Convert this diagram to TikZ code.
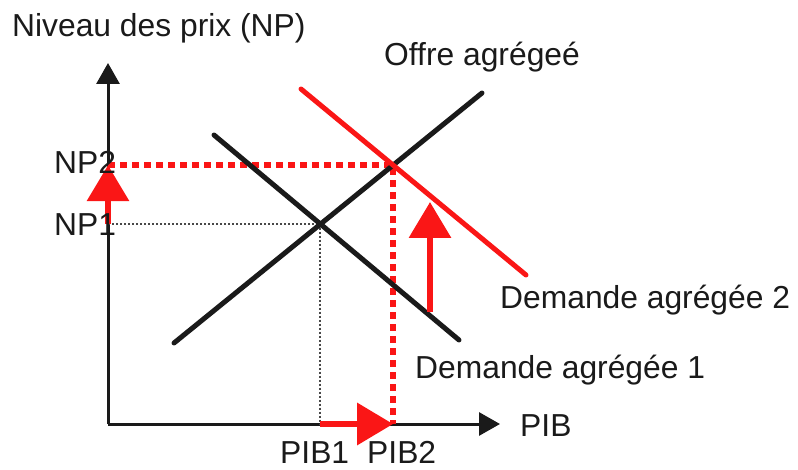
\documentclass[tikz,border=0pt]{standalone}
\usepackage{fontspec}
\setmainfont{Liberation Sans}
\usetikzlibrary{arrows.meta}
\definecolor{ink}{RGB}{26,26,26}
\definecolor{redl}{RGB}{250,22,22}
\begin{document}
\begin{tikzpicture}[x=1pt,y=-1pt,
  lbl/.style={anchor=base west,inner sep=0pt,text=ink,font=\fontsize{31.8}{32}\selectfont},
  curve/.style={draw=ink,line width=5pt,line cap=round},
  rcurve/.style={draw=redl,line width=5pt,line cap=round},
  axis/.style={draw=ink,line width=3pt,-{Triangle[width=23pt,length=21pt]}},
  guide/.style={draw=ink!80,line width=2pt,dash pattern=on 2pt off 2pt},
  rguide/.style={draw=redl,line width=6pt,dash pattern=on 7pt off 5pt},
  rarrow/.style={draw=redl,line width=6.5pt,-{Triangle[width=41pt,length=36pt]}}]
\useasboundingbox (0,0) rectangle (798,470);
% axes
\coordinate (O) at (108,424);
\coordinate (ytop) at (108,63);
\coordinate (xend) at (500,424);
\draw[axis] (O) -- (ytop);
\draw[axis] (O) -- (xend);
% curve end points
\coordinate (s1) at (174,343);
\coordinate (s2) at (482,93);
\coordinate (d1a) at (214,135);
\coordinate (d1b) at (459,340);
\coordinate (d2a) at (301,89);
\coordinate (d2b) at (526,275);
\coordinate (E1) at (intersection of s1--s2 and d1a--d1b);
\coordinate (E2) at (intersection of s1--s2 and d2a--d2b);
\coordinate (np1) at (O |- E1);
\coordinate (np2) at (O |- E2);
\coordinate (pib1) at (E1 |- O);
\coordinate (pib2) at (E2 |- O);
% guides
\draw[guide] (np1) -- (E1) -- (pib1);
\draw[rguide] (np2) -- (E2) -- (pib2);
% curves
\draw[curve] (s1) -- (s2);
\draw[curve] (d1a) -- (d1b);
\draw[rcurve] (d2a) -- (d2b);
% red arrows
\draw[rarrow] (np1) -- (np2);
\draw[rarrow] (pib1) -- (pib2);
\coordinate (sa) at (430,312);
\coordinate (sb) at (430,202);
\draw[rarrow] (sa) -- (sb);
% labels
\node[lbl] (t1) at (12,37) {Niveau des prix (NP)};
\node[lbl] (t2) at (384,66) {Offre agrégeé};
\node[lbl] (t3) at (54,174) {NP2};
\node[lbl] (t4) at (54,236) {NP1};
\node[lbl] (t5) at (500,309) {Demande agrégée 2};
\node[lbl] (t6) at (415,378) {Demande agrégée 1};
\node[lbl] (t7) at (520,436) {PIB};
\node[lbl] (t8) at (280,463) {PIB1};
\node[lbl] (t9) at (367,463) {PIB2};
\end{tikzpicture}
\end{document}
